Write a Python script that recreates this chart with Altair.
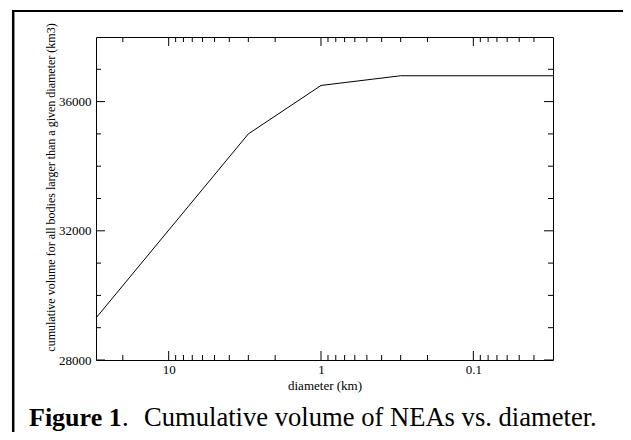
import altair as alt
import pandas as pd

# ---- data ----
diameter_km = [30, 3, 1, 0.3, 0.03]
cum_volume_km3 = [29300, 35000, 36500, 36800, 36800]

x_major_ticks = [10, 1, 0.1]
x_minor_ticks = [20, 9, 8, 7, 6, 5, 4, 3, 2,
                 0.9, 0.8, 0.7, 0.6, 0.5, 0.4, 0.3, 0.2,
                 0.09, 0.08, 0.07, 0.06, 0.05, 0.04]
y_major_ticks = [28000, 32000, 36000]
y_minor_ticks = [29000, 30000, 31000, 33000, 34000, 35000, 37000]

x_title = "diameter (km)"
y_title = "cumulative volume for all bodies larger than a given diameter (km3)"
caption_bold = "Figure 1"
caption_dot = "."
caption_rest = "Cumulative volume of NEAs vs. diameter."

W, H = 457, 323
FONT = "Liberation Serif"
MAJ, MIN = 9, 5
CAP_Y = 426 - 37

xscale = alt.Scale(type="log", domain=[0.03, 30], reverse=True, nice=False)
yscale = alt.Scale(domain=[28000, 38000], nice=False, zero=False)

xaxis = alt.Axis(values=x_major_ticks, format="~g", title=x_title,
                 ticks=False, tickSize=0, domain=False, grid=False,
                 labelFont=FONT, labelFontSize=13, labelColor="black",
                 labelPadding=3, labelFlush=False,
                 titleFont=FONT, titleFontSize=13, titleFontWeight="normal",
                 titleColor="black", titleY=29, titleBaseline="alphabetic")
yaxis = alt.Axis(values=y_major_ticks, format="d", title=y_title,
                 ticks=False, tickSize=0, domain=False, grid=False,
                 labelFont=FONT, labelFontSize=13, labelColor="black",
                 labelPadding=5,
                 titleFont=FONT, titleFontSize=12, titleFontWeight="normal",
                 titleColor="black", titleAngle=270, titleX=-46, titleY=150,
                 titleAlign="center", titleBaseline="middle")

X = alt.X("x:Q", scale=xscale, axis=xaxis)
Y = alt.Y("y:Q", scale=yscale, axis=yaxis)

line = alt.Chart(pd.DataFrame({"x": diameter_km, "y": cum_volume_km3})).mark_line(
    color="black", strokeWidth=1).encode(x=X, y=Y)

xmaj = pd.DataFrame({"x": x_major_ticks})
xmin = pd.DataFrame({"x": x_minor_ticks})
ymaj = pd.DataFrame({"y": y_major_ticks})
ymin = pd.DataFrame({"y": y_minor_ticks})

def xticks(df, length):
    bottom = alt.Chart(df).mark_rule(color="black", strokeWidth=1).encode(
        x=X, y=alt.value(H), y2=alt.value(H - length))
    top = alt.Chart(df).mark_rule(color="black", strokeWidth=1).encode(
        x=X, y=alt.value(0), y2=alt.value(length))
    return [bottom, top]

def yticks(df, length):
    left = alt.Chart(df).mark_rule(color="black", strokeWidth=1).encode(
        y=Y, x=alt.value(0), x2=alt.value(length))
    right = alt.Chart(df).mark_rule(color="black", strokeWidth=1).encode(
        y=Y, x=alt.value(W), x2=alt.value(W - length))
    return [left, right]

one = pd.DataFrame({"k": [0]})
border_top = alt.Chart(one).mark_rule(color="black", strokeWidth=2).encode(
    x=alt.value(-84), x2=alt.value(540), y=alt.value(-26))
border_left = alt.Chart(one).mark_rule(color="black", strokeWidth=2.5).encode(
    x=alt.value(-82.8), y=alt.value(-27), y2=alt.value(410))

cap1 = alt.Chart(one).mark_text(text=caption_bold, font=FONT, fontSize=26,
                                fontWeight="bold", align="left",
                                baseline="alphabetic", color="black").encode(
    x=alt.value(29 - 96), y=alt.value(CAP_Y))
cap2 = alt.Chart(one).mark_text(text=caption_dot, font=FONT, fontSize=26.6,
                                align="left", baseline="alphabetic",
                                color="black").encode(
    x=alt.value(122 - 96), y=alt.value(CAP_Y))
cap3 = alt.Chart(one).mark_text(text=caption_rest, font=FONT, fontSize=26.6,
                                align="left", baseline="alphabetic",
                                color="black").encode(
    x=alt.value(144 - 96), y=alt.value(CAP_Y))

layers = [line] + xticks(xmaj, MAJ) + xticks(xmin, MIN) + yticks(ymaj, MAJ) + yticks(ymin, MIN) \
    + [border_top, border_left, cap1, cap2, cap3]

chart = alt.layer(*layers).properties(
    width=W, height=H,
    padding={"left": 88, "top": 29, "right": 70, "bottom": 72},
    autosize=alt.AutoSizeParams(type="none"),
    background="white",
).configure_view(stroke="black", strokeWidth=1).configure_axis(
    labelFont=FONT, titleFont=FONT)

chart.save("out.html", embed_options={"renderer": "svg", "actions": False})
